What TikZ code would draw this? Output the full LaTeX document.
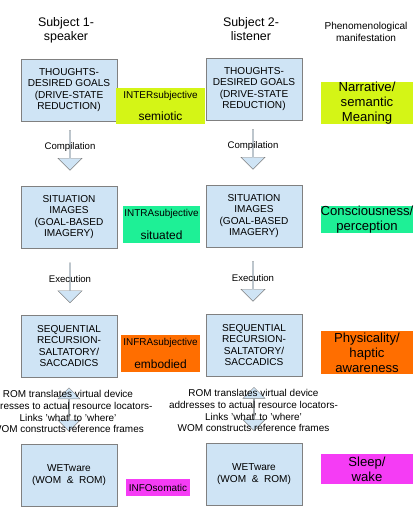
\documentclass[tikz,border=0pt]{standalone}
\usepackage{fontspec}
\setmainfont{Liberation Sans}
\usepackage{xcolor}
\usetikzlibrary{shapes.arrows, positioning}
\definecolor{boxblue}{RGB}{207,228,245}
\definecolor{boxline}{RGB}{128,128,128}
\definecolor{lime}{RGB}{212,245,22}
\definecolor{mint}{RGB}{30,240,150}
\definecolor{tangerine}{RGB}{255,110,0}
\definecolor{pinkish}{RGB}{245,60,245}
\tikzset{
  stage/.style={rectangle, draw=boxline, fill=boxblue, align=center,
                minimum width=2.88cm, minimum height=1.86cm,
                font=\fontsize{8.6}{9.6}\selectfont},
  tag/.style={rectangle, fill=#1, align=center, inner sep=0pt,
              font=\fontsize{8.5}{10}\selectfont},
  manif/.style={rectangle, fill=#1, align=center, inner sep=0pt,
                minimum width=2.76cm, font=\fontsize{11.2}{12.8}\selectfont},
  heading/.style={align=center, font=\fontsize{10.6}{12.2}\selectfont},
  downarrow/.style={single arrow, draw=boxline, fill=boxblue, rotate=-90,
                    minimum width=0.72cm, single arrow head extend=0.16cm,
                    minimum height=1.2cm, inner sep=0pt},
  bothways/.style={double arrow, draw=boxline, fill=boxblue, rotate=90,
                   minimum width=0.66cm, double arrow head extend=0.14cm,
                   minimum height=1.3cm, inner sep=0pt},
  steplabel/.style={font=\fontsize{8.2}{9.6}\selectfont},
  romtext/.style={align=center, font=\fontsize{8.5}{10.2}\selectfont},
}
\newcommand{\bigword}[1]{{\fontsize{10.2}{12}\selectfont #1}}

\begin{document}
\begin{tikzpicture}[x=0.03cm, y=-0.03cm]
  \clip (0,0) rectangle (419,522);
  \fill[white] (0,0) rectangle (419,522);

  % column headings
  \node[heading] (subj1) at (66,30) {Subject 1-\\speaker};
  \node[heading] (subj2) at (251,29) {Subject 2-\\listener};
  \node[heading, font=\fontsize{8.6}{10.2}\selectfont] (phen) at (366,32)
       {Phenomenological\\manifestation};

  % block arrows (behind the texts)
  \node[downarrow] (cmpl) at (70,150) {};
  \node[downarrow] (cmpr) at (253,149) {};
  \node[downarrow] (exel) at (70,282.5) {};
  \node[downarrow] (exer) at (253,281) {};
  \node[bothways] (roml) at (69,409.5) {};
  \node[bothways] (romr) at (254,409) {};

  % speaker
  \node[stage] (thoughtsA) at (69,90) {THOUGHTS-\\DESIRED GOALS\\(DRIVE-STATE\\REDUCTION)};
  \node[stage] (imagesA) at (69,217) {SITUATION\\IMAGES\\(GOAL-BASED\\IMAGERY)};
  \node[stage] (seqA) at (69,346) {SEQUENTIAL\\RECURSION-\\SALTATORY/\\SACCADICS};
  \node[stage] (wetA) at (69,475) {WETware\\(WOM \ \& \ ROM)};

  % listener
  \node[stage] (thoughtsB) at (254,89) {THOUGHTS-\\DESIRED GOALS\\(DRIVE-STATE\\REDUCTION)};
  \node[stage] (imagesB) at (254,216) {SITUATION\\IMAGES\\(GOAL-BASED\\IMAGERY)};
  \node[stage] (seqB) at (254,345) {SEQUENTIAL\\RECURSION-\\SALTATORY/\\SACCADICS};
  \node[stage] (wetB) at (254,474) {WETware\\(WOM \ \& \ ROM)};

  % levels between the subjects
  \node[tag=lime, minimum width=2.67cm, minimum height=1.08cm] (inter) at (160.5,106)
       {INTERsubjective\\[9pt]\bigword{semiotic}};
  \node[tag=mint, minimum width=2.31cm, minimum height=1.11cm] (intra) at (161.5,224.5)
       {INTRAsubjective\\[10pt]\bigword{situated}};
  \node[tag=tangerine, minimum width=2.37cm, minimum height=1.11cm] (infra) at (160.5,353.5)
       {INFRAsubjective\\[9pt]\bigword{embodied}};
  \node[tag=pinkish, minimum width=1.92cm, minimum height=0.51cm] (info) at (158,487.5)
       {INFOsomatic};

  % phenomenological manifestation
  \node[manif=lime, minimum height=1.26cm] (narr) at (367,103) {Narrative/\\semantic\\Meaning};
  \node[manif=mint, minimum height=0.81cm] (consc) at (367,219.5) {Consciousness/\\perception};
  \node[manif=tangerine, minimum height=1.29cm] (phys) at (367,352.5) {Physicality/\\haptic\\awareness};
  \node[manif=pinkish, minimum height=0.9cm] (sleep) at (367,469) {Sleep/\\wake};

  % arrow labels
  \node[steplabel] (cmpltxt) at (70,147) {Compilation};
  \node[steplabel] (cmprtxt) at (253,146) {Compilation};
  \node[steplabel] (exeltxt) at (70,279) {Execution};
  \node[steplabel] (exertxt) at (253,278) {Execution};
  \node[romtext] (romltxt) at (68,411.5) {ROM translates virtual device\\addresses to actual resource locators-\\Links 'what' to 'where'\\WOM constructs reference frames};
  \node[romtext] (romrtxt) at (253.5,410.5) {ROM translates virtual device\\addresses to actual resource locators-\\Links 'what' to 'where'\\WOM constructs reference frames};
\end{tikzpicture}
\end{document}
